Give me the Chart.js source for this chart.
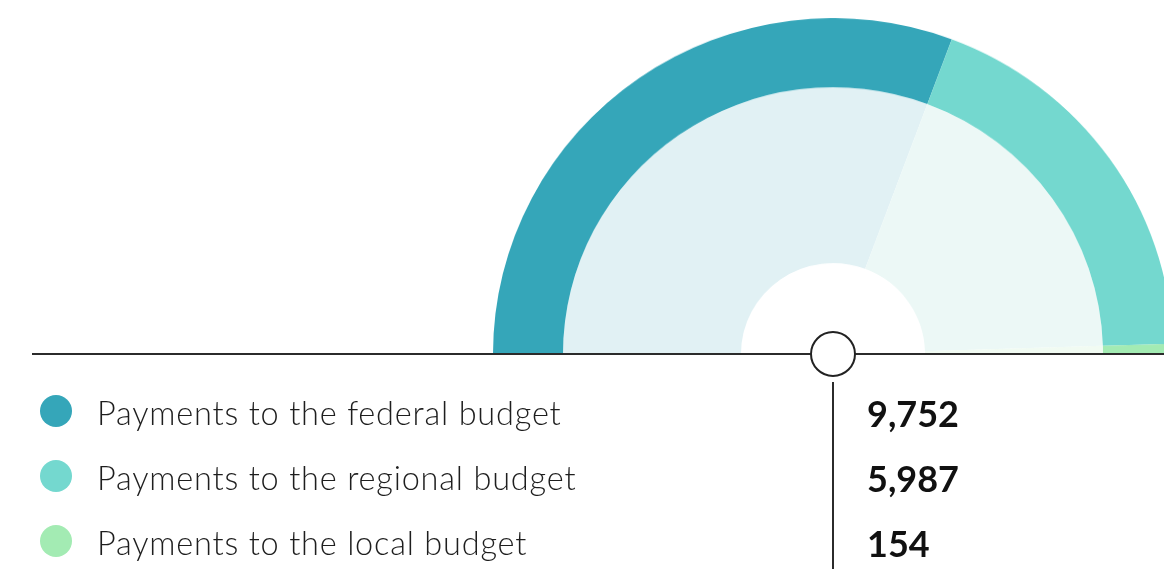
<!DOCTYPE html>
<html>
<head>
<meta charset="utf-8">
<script src="https://cdn.jsdelivr.net/npm/chart.js@4.4.1/dist/chart.umd.min.js"></script>
<style>
  html, body { margin: 0; padding: 0; background: #fff; }
  body { width: 1164px; height: 569px; position: relative; overflow: hidden; font-family: Lato, 'Open Sans', sans-serif; }
  #gauge-wrap { position: absolute; left: 493px; top: 14px; width: 680px; height: 340px; transform: scaleY(0.988); transform-origin: 50% 100%; }
  .baseline { position: absolute; left: 32px; top: 353px; width: 1140px; height: 2px; background: #2b2b2b; }
  .pivot { position: absolute; left: 810px; top: 331px; width: 42px; height: 42px; border: 2.5px solid #222; border-radius: 50%; background: #fff; }
  .divider { position: absolute; left: 832px; top: 382px; width: 2px; height: 200px; background: #2b2b2b; }
  .legend { position: absolute; left: 0; top: 0; }
  .row { position: absolute; left: 0; height: 40px; width: 1164px; }
  .dot { position: absolute; left: 40px; width: 32px; height: 32px; border-radius: 50%; }
  .label { position: absolute; left: 97px; font-size: 32.5px; letter-spacing: 0.8px; font-weight: 300; color: #1e1e1e; white-space: nowrap; line-height: 1; }
  .value { position: absolute; left: 867px; font-size: 36px; font-weight: 700; color: #111; white-space: nowrap; line-height: 1; }
</style>
</head>
<body>
<div id="gauge-wrap"><canvas id="gauge"></canvas></div>
<div class="baseline"></div>
<div class="pivot"></div>
<div class="divider"></div>
<div class="legend" id="legend"></div>
<script>
// Budget payments split
const labels = ['Payments to the federal budget', 'Payments to the regional budget', 'Payments to the local budget'];
const values = [9752, 5987, 154];
const ringColors = ['#35a6b9', '#74d8cf', '#a3ebb3'];
const fillColors = ['#e1f1f4', '#ecf8f6', '#f1fbf2'];

const ctx = document.getElementById('gauge').getContext('2d');
new Chart(ctx, {
  type: 'doughnut',
  data: {
    labels,
    datasets: [
      { data: values, backgroundColor: ringColors, borderWidth: 0, weight: 70 },
      { data: values, backgroundColor: fillColors, borderWidth: 0, weight: 178 },
    ],
  },
  options: {
    responsive: true,
    maintainAspectRatio: false,
    animation: false,
    rotation: -90,
    circumference: 180,
    cutout: '27.06%',
    layout: { padding: 0 },
    plugins: { legend: { display: false }, tooltip: { enabled: false } },
  },
});

// Legend rows with values on the right
const legend = document.getElementById('legend');
const rowTops = [395, 460, 525];
labels.forEach((text, i) => {
  const row = document.createElement('div');
  row.className = 'row';
  row.style.top = rowTops[i] + 'px';
  row.innerHTML =
    `<div class="dot" style="top:0;background:${ringColors[i]}"></div>` +
    `<div class="label" style="top:2px">${text}</div>` +
    `<div class="value" style="top:0">${values[i].toLocaleString('en-US')}</div>`;
  legend.appendChild(row);
});
</script>
</body>
</html>
